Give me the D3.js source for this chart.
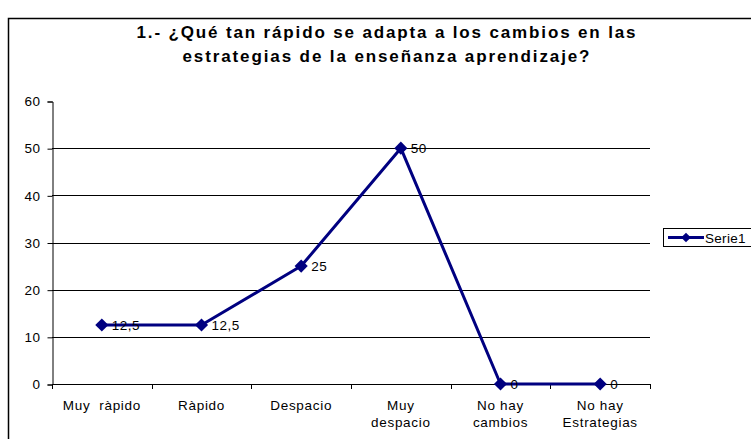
<!DOCTYPE html>
<meta charset="utf-8">
<script src="https://d3js.org/d3.v7.min.js"></script>
<style>
  body { margin: 0; background: #fff; }
  text { font-family: Arial, "Liberation Sans", sans-serif; }
</style>
<div id="chart"></div>
<script>
// data
var categories = [["Muy  ràpido"], ["Ràpido"], ["Despacio"], ["Muy", "despacio"], ["No hay", "cambios"], ["No hay", "Estrategias"]];
var values = [12.5, 12.5, 25, 50, 0, 0];
var labels = ["12,5", "12,5", "25", "50", "0", "0"];
var yTicks = [0, 10, 20, 30, 40, 50, 60];
var seriesName = "Serie1";
var titleLines = ["1.- ¿Qué tan rápido se adapta a los cambios en las", "estrategias de la enseñanza aprendizaje?"];
var titleWidths = [499, 407];

var width = 751, height = 439;
var margin = {top: 101, left: 52, right: 101, bottom: 55};
var navy = "#000080";
var fs = "13.5px";

var svg = d3.select("#chart").append("svg")
    .attr("width", width)
    .attr("height", height);

// outer chart frame
svg.append("rect")
    .attr("x", 8.5).attr("y", 18.5)
    .attr("width", 760).attr("height", 440)
    .attr("fill", "none").attr("stroke", "#000").attr("stroke-width", 1.5);

// title
svg.append("g").selectAll("text")
  .data(titleLines)
  .enter().append("text")
    .attr("x", 386)
    .attr("y", function(d, i) { return 38 + i * 24; })
    .attr("text-anchor", "middle")
    .attr("textLength", function(d, i) { return titleWidths[i]; })
    .attr("lengthAdjust", "spacing")
    .style("font-size", "17px")
    .style("font-weight", "bold")
    .text(function(d) { return d; });

var x = d3.scaleBand()
    .domain(d3.range(categories.length))
    .range([margin.left, width - margin.right]);

var y = d3.scaleLinear()
    .domain([0, 60])
    .range([384, margin.top]);

// gridlines
svg.append("g").selectAll("line")
  .data(yTicks.filter(function(d) { return d > 0 && d < 60; }))
  .enter().append("line")
    .attr("x1", margin.left).attr("x2", width - margin.right)
    .attr("y1", function(d) { return Math.round(y(d)) + 0.5; })
    .attr("y2", function(d) { return Math.round(y(d)) + 0.5; })
    .attr("stroke", "#000").attr("stroke-width", 1);

// y axis
var yAxis = svg.append("g")
    .attr("transform", "translate(" + (margin.left + 0.5) + ",0.5)")
    .call(d3.axisLeft(y).tickValues(yTicks).tickSize(5).tickPadding(7));
yAxis.select(".domain").attr("stroke", "#000");
yAxis.selectAll("text")
    .style("font-size", fs)
    .style("letter-spacing", "0.5px")
    .style("font-family", "Arial, 'Liberation Sans', sans-serif");

// x axis line with ticks between categories
var xAxisG = svg.append("g");
xAxisG.append("line")
    .attr("x1", margin.left).attr("x2", width - margin.right)
    .attr("y1", y(0) + 0.5).attr("y2", y(0) + 0.5)
    .attr("stroke", "#000");
xAxisG.selectAll(".tk")
  .data(d3.range(categories.length + 1))
  .enter().append("line")
    .attr("x1", function(d) { return Math.round(margin.left + d * x.step()) + 0.5; })
    .attr("x2", function(d) { return Math.round(margin.left + d * x.step()) + 0.5; })
    .attr("y1", y(0)).attr("y2", y(0) + 5)
    .attr("stroke", "#000");

var xl = xAxisG.selectAll(".xl")
  .data(categories)
  .enter().append("text")
    .attr("text-anchor", "middle")
    .attr("transform", function(d, i) { return "translate(" + (x(i) + x.bandwidth() / 2) + ",410)"; })
    .style("font-size", fs)
    .style("letter-spacing", "0.7px");
xl.selectAll("tspan")
  .data(function(d) { return d; })
  .enter().append("tspan")
    .attr("x", 0)
    .attr("y", function(d, i) { return i * 17; })
    .style("white-space", "pre")
    .text(function(d) { return d; });

// series line
var cx = function(i) { return x(i) + x.bandwidth() / 2; };
var line = d3.line()
    .x(function(d, i) { return cx(i); })
    .y(function(d) { return y(d); });

svg.append("path")
    .datum(values)
    .attr("d", line)
    .attr("fill", "none")
    .attr("stroke", navy)
    .attr("stroke-width", 3)
    .attr("stroke-linejoin", "round");

var diamond = d3.symbol().type(d3.symbolDiamond2).size(110);
svg.append("g").selectAll("path")
  .data(values)
  .enter().append("path")
    .attr("d", diamond)
    .attr("transform", function(d, i) { return "translate(" + cx(i) + "," + y(d) + ")"; })
    .attr("fill", navy);

svg.append("g").selectAll("text")
  .data(values)
  .enter().append("text")
    .attr("x", function(d, i) { return cx(i) + 10; })
    .attr("y", function(d) { return y(d) + 5; })
    .style("font-size", fs)
    .style("letter-spacing", "0.5px")
    .text(function(d, i) { return labels[i]; });

// legend
var lg = svg.append("g");
lg.append("rect")
    .attr("x", 663.5).attr("y", 228.5)
    .attr("width", 100).attr("height", 18)
    .attr("fill", "#fff").attr("stroke", "#000");
lg.append("line")
    .attr("x1", 668).attr("x2", 704)
    .attr("y1", 237.5).attr("y2", 237.5)
    .attr("stroke", navy).attr("stroke-width", 3);
lg.append("path")
    .attr("d", d3.symbol().type(d3.symbolDiamond2).size(60))
    .attr("transform", "translate(686,237.5)")
    .attr("fill", navy);
lg.append("text")
    .attr("x", 705).attr("y", 242.5)
    .style("font-size", fs)
    .style("letter-spacing", "0.3px")
    .text(seriesName);
</script>
